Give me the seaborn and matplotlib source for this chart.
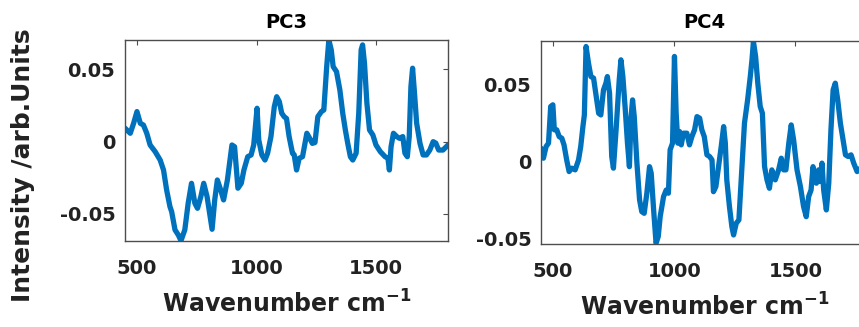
import matplotlib
matplotlib.use("Agg")
import matplotlib.pyplot as plt
import seaborn as sns
import pandas as pd

# ---- data ----
pc3_wavenumber = [450, 472, 486, 500, 514, 527, 541, 555, 576, 597, 611, 624, 638, 645, 659, 673, 684,
                  700, 714, 728, 742, 753, 767, 779, 793, 814, 825, 836, 850, 862, 878, 897, 908, 922,
                  936, 947, 963, 977, 988, 1002, 1009, 1022, 1035, 1046, 1060, 1074, 1084, 1095, 1105,
                  1115, 1125, 1136, 1150, 1157, 1167, 1178, 1192, 1210, 1222, 1233, 1244, 1256, 1271,
                  1281, 1293, 1302, 1312, 1320, 1334, 1348, 1360, 1371, 1381, 1392, 1402, 1416, 1427,
                  1437, 1443, 1451, 1461, 1472, 1486, 1499, 1517, 1537, 1549, 1555, 1562, 1572, 1586,
                  1597, 1611, 1620, 1630, 1638, 1645, 1652, 1659, 1669, 1683, 1696, 1710, 1724, 1738,
                  1749, 1761, 1779, 1800]
pc3_intensity = [0.0093, 0.0058, 0.0127, 0.0208, 0.0127, 0.0115, 0.0058, -0.0023, -0.0069, -0.0127,
                 -0.0196, -0.0334, -0.045, -0.0484, -0.061, -0.0646, -0.0685, -0.061, -0.0426, -0.0288,
                 -0.0426, -0.0461, -0.038, -0.0288, -0.038, -0.0606, -0.0403, -0.0265, -0.0334, -0.0403,
                 -0.0265, -0.0023, -0.0035, -0.0322, -0.0288, -0.0196, -0.0104, -0.0092, -0.0023, 0.0231,
                 0.0012, -0.0092, -0.0127, -0.008, 0.0035, 0.0242, 0.0311, 0.0277, 0.0197, 0.0173, 0.016,
                 0.0035, -0.008, -0.009, -0.0196, -0.0115, -0.0104, 0.0058, 0.0023, -0.0012, -0.0006,
                 0.0173, 0.0208, 0.0219, 0.0519, 0.0703, 0.0635, 0.0519, 0.0484, 0.0358, 0.0197, 0.0081,
                 -0.0012, -0.0104, -0.0127, -0.008, 0.0197, 0.0635, 0.0669, 0.0542, 0.0266, 0.0081,
                 0.0046, -0.0023, -0.0069, -0.0104, -0.0115, -0.0196, -0.0035, 0.0058, 0.0035, 0.0023,
                 0.0035, -0.008, -0.0104, 0.0035, 0.038, 0.0508, 0.0358, 0.0127, -0.0012, -0.0092,
                 -0.0092, -0.0058, 0.0, -0.001, -0.0058, -0.0058, -0.0023]

pc4_wavenumber = [450, 460, 471, 481, 490, 499, 505, 515, 525, 536, 545, 556, 566, 577, 591, 605, 614,
                  623, 629, 636, 646, 656, 667, 678, 688, 697, 708, 718, 724, 733, 742, 749, 760, 773,
                  780, 788, 798, 807, 815, 822, 828, 835, 846, 857, 866, 876, 887, 898, 905, 915, 925,
                  934, 942, 956, 967, 976, 983, 993, 1001, 1008, 1015, 1022, 1029, 1038, 1052, 1063,
                  1073, 1084, 1094, 1105, 1114, 1124, 1135, 1146, 1156, 1162, 1172, 1183, 1194, 1204,
                  1211, 1217, 1228, 1238, 1245, 1256, 1267, 1279, 1290, 1303, 1314, 1321, 1327, 1336,
                  1345, 1355, 1364, 1373, 1383, 1393, 1403, 1417, 1431, 1442, 1452, 1461, 1473, 1483,
                  1493, 1507, 1521, 1534, 1545, 1555, 1565, 1573, 1580, 1587, 1596, 1603, 1610, 1617,
                  1628, 1638, 1647, 1656, 1665, 1675, 1686, 1697, 1707, 1718, 1730, 1741, 1755, 1770,
                  1785, 1800]
pc4_intensity = [0.0087, 0.0022, 0.0098, 0.012, 0.0359, 0.037, 0.0207, 0.0207, 0.0163, 0.0152, 0.0109,
                 0.0011, -0.0065, -0.0043, -0.0054, 0.0011, 0.0098, 0.0228, 0.0304, 0.075, 0.0642,
                 0.0554, 0.0544, 0.0424, 0.0315, 0.0304, 0.0467, 0.0511, 0.0554, 0.0446, 0.0033,
                 -0.0043, 0.0207, 0.0533, 0.0663, 0.0554, 0.0337, 0.012, -0.0033, 0.0293, 0.0402,
                 0.0293, -0.001, -0.025, -0.0326, -0.0337, -0.0206, -0.0033, -0.0076, -0.0315, -0.0532,
                 -0.0489, -0.0359, -0.0228, -0.0185, -0.0206, 0.0076, 0.012, 0.0685, 0.0315, 0.012,
                 0.0196, 0.0109, 0.0185, 0.0185, 0.0109, 0.0163, 0.0207, 0.0293, 0.0283, 0.0207,
                 0.0163, 0.0044, 0.0033, 0.0011, -0.0196, -0.0163, -0.0033, 0.0098, 0.0228, 0.012,
                 -0.0119, -0.0293, -0.0424, -0.0478, -0.0402, -0.038, -0.0054, 0.025, 0.0402, 0.0554,
                 0.0663, 0.0782, 0.0685, 0.0511, 0.0359, 0.0315, -0.0033, -0.0119, -0.0174, -0.0054,
                 -0.0119, -0.0054, 0.0022, -0.0054, -0.0054, 0.012, 0.0239, 0.0141, -0.0054, -0.0163,
                 -0.0293, -0.0359, -0.0228, -0.0185, -0.0033, -0.0098, -0.0141, -0.0054, -0.013,
                 -0.001, -0.0185, -0.0315, -0.0141, 0.0207, 0.0467, 0.0511, 0.0402, 0.025, 0.0141,
                 0.0044, 0.0033, 0.0044, -0.001, -0.0065, -0.004, -0.002, 0.0]

titles = ["PC3", "PC4"]
x_ticks = [500, 1000, 1500]
x_ticklabels = ["500", "1000", "1500"]
y_ticks = [-0.05, 0, 0.05]
y_ticklabels = ["-0.05", "0", "0.05"]
x_label = r"Wavenumber cm$^{\mathbf{-1}}$"
y_label = "Intensity /arb.Units"

# ---- style ----
sns.set_style("white")
plt.rcParams["font.family"] = ["DejaVu Sans"]
plt.rcParams["mathtext.default"] = "bf"

line_color = "#0072BD"
frame_color = "#4d4d4d"
text_color = "#222222"

fig = plt.figure(figsize=(8.59, 3.27), dpi=100)
ax3 = fig.add_axes([125 / 859, (327 - 241) / 327, 323 / 859, 201 / 327])
ax4 = fig.add_axes([541 / 859, (327 - 244) / 327, 327 / 859, 203.5 / 327])

df3 = pd.DataFrame({"wavenumber": pc3_wavenumber, "intensity": pc3_intensity})
df4 = pd.DataFrame({"wavenumber": pc4_wavenumber, "intensity": pc4_intensity})

sns.lineplot(data=df3, x="wavenumber", y="intensity", ax=ax3, color=line_color,
             linewidth=3.8, sort=False, estimator=None)
sns.lineplot(data=df4, x="wavenumber", y="intensity", ax=ax4, color=line_color,
             linewidth=3.8, sort=False, estimator=None)

limits = {ax3: (-0.0687, 0.0703), ax4: (-0.0537, 0.0789)}

for ax, title in zip([ax3, ax4], titles):
    ax.set_xlim(450, 1800)
    ax.set_ylim(*limits[ax])
    ax.set_xticks(x_ticks)
    ax.set_xticklabels(x_ticklabels)
    ax.set_yticks(y_ticks)
    ax.set_yticklabels(y_ticklabels)
    ax.tick_params(direction="in", length=3.5, width=0.8, color=frame_color,
                   top=True, right=True, labelsize=14, labelcolor=text_color)
    ax.tick_params(axis="x", pad=13)
    ax.tick_params(axis="y", pad=7)
    for lab in ax.get_xticklabels() + ax.get_yticklabels():
        lab.set_fontweight("bold")
    for sp in ax.spines.values():
        sp.set_visible(True)
        sp.set_color(frame_color)
        sp.set_linewidth(1.0)
    ax.set_title(title, fontsize=14, fontweight="bold", color="black", pad=9)
    ax.set_xlabel(x_label, fontsize=17, fontweight="bold", color=text_color, labelpad=9)
    ax.set_ylabel("")
    ax.grid(False)

fig.text(23 / 859, 1 - 165 / 327, y_label, rotation=90, ha="center", va="center",
         fontsize=18, fontweight="bold", color=text_color)

fig.savefig("out.png", dpi=100)
